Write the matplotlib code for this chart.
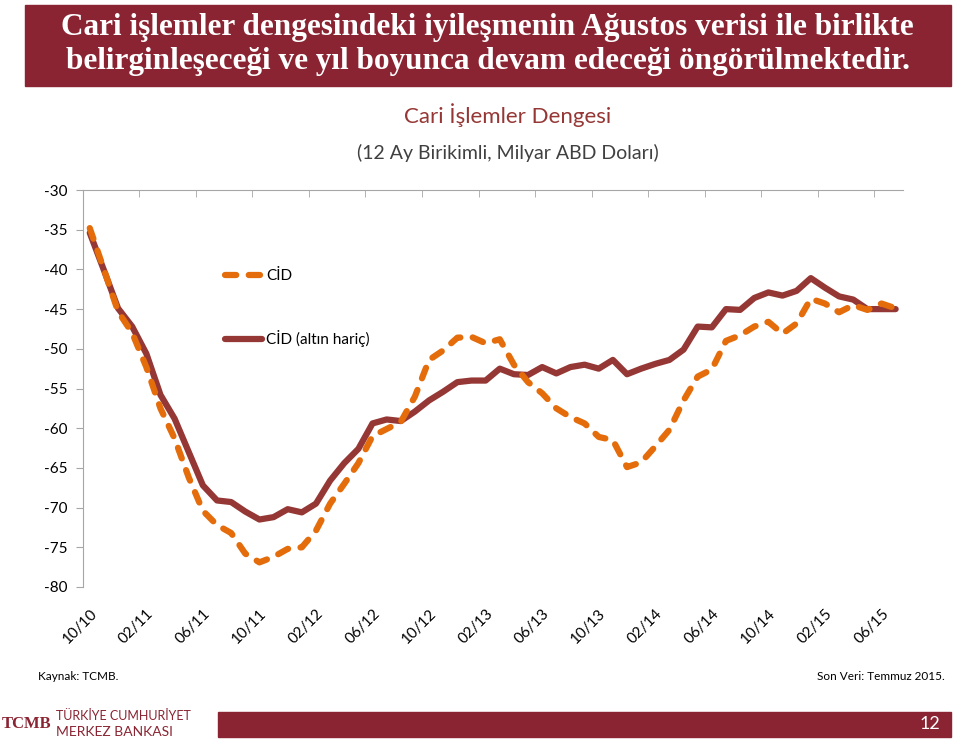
import numpy as np
import matplotlib
matplotlib.use("Agg")
import matplotlib.pyplot as plt
from matplotlib.patches import Rectangle

# data: monthly, 10/2010 - 07/2015 (12-month cumulative, bn USD)
cid = [-34.8, -40.0, -45.3, -48.0, -52.3, -57.5, -61.3, -66.2, -70.4, -72.2,
       -73.2, -75.8, -76.9, -76.2, -75.2, -75.0, -72.9, -69.5, -67.0, -64.4,
       -61.0, -60.1, -59.2, -56.0, -51.4, -50.2, -48.6, -48.5, -49.3, -48.8,
       -52.0, -54.2, -55.6, -57.5, -58.6, -59.4, -61.1, -61.5, -64.9, -64.3,
       -62.3, -60.2, -56.5, -53.5, -52.6, -49.0, -48.3, -47.2, -46.6, -48.1,
       -46.8, -43.7, -44.3, -45.4, -44.5, -45.1, -44.3, -44.9]
cid_ex_gold = [-35.4, -40.1, -44.9, -47.2, -50.6, -55.8, -58.8, -63.0, -67.2, -69.1,
               -69.3, -70.5, -71.5, -71.2, -70.2, -70.6, -69.5, -66.6, -64.4, -62.6,
               -59.4, -58.9, -59.1, -57.9, -56.5, -55.4, -54.2, -54.0, -54.0, -52.5,
               -53.2, -53.3, -52.3, -53.1, -52.3, -52.0, -52.5, -51.4, -53.2, -52.5,
               -51.9, -51.4, -50.1, -47.2, -47.3, -45.0, -45.1, -43.6, -42.9, -43.3,
               -42.7, -41.1, -42.3, -43.4, -43.8, -45.0, -45.0, -45.0]
tick_labels = ["10/10", "02/11", "06/11", "10/11", "02/12", "06/12", "10/12", "02/13",
               "06/13", "10/13", "02/14", "06/14", "10/14", "02/15", "06/15"]

RED = "#8a2432"
ORANGE = "#e46c0a"
DARKRED = "#953735"
GRAY = "#a6a6a6"

plt.rcParams["font.family"] = ["Lato", "DejaVu Sans"]
plt.rcParams["axes.unicode_minus"] = False

fig = plt.figure(figsize=(9.6, 7.45), dpi=100)

# header box
fig.patches.append(Rectangle((25 / 960, 1 - 86 / 745), 926 / 960, 81 / 745,
                             transform=fig.transFigure, color=RED, zorder=0))
fig.text(0.508, 1 - 28 / 745, "Cari işlemler dengesindeki iyileşmenin Ağustos verisi ile birlikte",
         ha="center", va="center", color="white", fontsize=22.5,
         fontfamily="Liberation Serif", fontweight="bold")
fig.text(0.508, 1 - 61 / 745, "belirginleşeceği ve yıl boyunca devam edeceği öngörülmektedir.",
         ha="center", va="center", color="white", fontsize=22.5,
         fontfamily="Liberation Serif", fontweight="bold")

# chart titles
fig.text(0.529, 1 - 115 / 745, "Cari İşlemler Dengesi", ha="center", va="center",
         color=DARKRED, fontsize=16)
fig.text(0.529, 1 - 153 / 745, "(12 Ay Birikimli, Milyar ABD Doları)", ha="center",
         va="center", color="#404040", fontsize=14)

ax = fig.add_axes([82.7 / 960, 1 - 587 / 745, 820 / 960, 397 / 745])
x = np.arange(len(cid)) + 0.5

ax.plot(x, cid, color=ORANGE, lw=4.5, dashes=(1.8, 2.0), dash_capstyle="round",
        solid_joinstyle="round", dash_joinstyle="round", label="CİD", zorder=3)
ax.plot(x, cid_ex_gold, color=DARKRED, lw=4.5, solid_capstyle="round",
        solid_joinstyle="round", label="CİD (altın hariç)", zorder=2)

ax.set_xlim(0, 58)
ax.set_ylim(-80, -30)
ax.set_yticks(np.arange(-80, -29, 5))
ax.tick_params(axis="y", length=5, color=GRAY, labelsize=11, pad=6)

ax.set_xticks(np.arange(0, 57, 4) + 0.5)
ax.set_xticklabels(tick_labels, rotation=45, ha="right", rotation_mode="anchor",
                   fontsize=11)
ax.tick_params(axis="x", which="major", length=0, pad=14)
ax.set_xticks(np.arange(0, 57, 4), minor=True)
ax.tick_params(axis="x", which="minor", bottom=False, top=True, direction="in",
               length=5, color=GRAY)

for s in ["right", "bottom"]:
    ax.spines[s].set_visible(False)
ax.spines["left"].set_color(GRAY)
ax.spines["top"].set_color(GRAY)

leg = ax.legend(loc="upper left", bbox_to_anchor=(225 / 960, 1 - 269 / 745),
                bbox_transform=fig.transFigure, frameon=False, fontsize=11,
                labelspacing=3.1, handlelength=2.4, handletextpad=0.3,
                borderpad=0, borderaxespad=0)

# footer
fig.text(38 / 960, 1 - 676 / 745, "Kaynak: TCMB.", fontsize=8.5, va="center")
fig.text(945 / 960, 1 - 676 / 745, "Son Veri: Temmuz 2015.", fontsize=8.5,
         va="center", ha="right")
fig.patches.append(Rectangle((218 / 960, 1 - 737 / 745), 733 / 960, 25 / 745,
                             transform=fig.transFigure, color=RED, zorder=0))
fig.text(940 / 960, 1 - 724 / 745, "12", color="white", fontsize=13, ha="right",
         va="center")
fig.text(27 / 960, 1 - 724 / 745, "TCMB", color=RED, fontsize=12, fontweight="bold",
         ha="center", va="center", fontfamily="Liberation Serif")
fig.text(56 / 960, 1 - 716 / 745, "TÜRKİYE CUMHURİYET", color=RED, fontsize=9,
         va="center")
fig.text(56 / 960, 1 - 732 / 745, "MERKEZ BANKASI", color=RED, fontsize=10,
         va="center")

fig.savefig("out.png", dpi=100)
